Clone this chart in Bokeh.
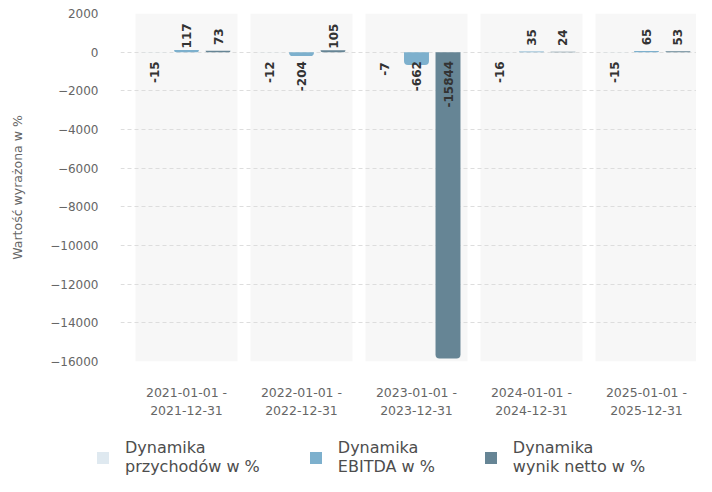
import math
from bokeh.plotting import figure
from bokeh.layouts import column, row
from bokeh.models import ColumnDataSource, FixedTicker, Legend, LegendItem
from bokeh.core.properties import value
from bokeh.embed import file_html
from bokeh.resources import INLINE

periods = ["2021-01-01 -\n2021-12-31", "2022-01-01 -\n2022-12-31", "2023-01-01 -\n2023-12-31",
           "2024-01-01 -\n2024-12-31", "2025-01-01 -\n2025-12-31"]
revenue = [-15, -12, -7, -16, -15]
ebitda = [117, -204, -662, 35, 65]
net = [73, 105, -15844, 24, 53]
series_names = ["Dynamika\nprzychodów w %", "Dynamika\nEBITDA w %", "Dynamika\nwynik netto w %"]
series_colors = ["#dfe9f0", "#7db0cd", "#668595"]
y_ticks = list(range(-16000, 2001, 2000))

FONT = "DejaVu Sans"

p = figure(width=696, height=430, output_backend="svg", toolbar_location=None,
           x_range=(-0.574, 4.435), y_range=(-16000, 2000),
           min_border_left=120, min_border_right=0, min_border_top=13, min_border_bottom=69)
p.outline_line_color = None
p.background_fill_color = "white"

xc = list(range(len(periods)))
band = p.vbar(x=xc, top=[2000] * len(xc), bottom=[-16000] * len(xc), width=0.887,
              fill_color="#f7f7f7", line_color=None)
band.level = "image"

# legend strip below the chart (own figure, ranges chosen so its bars stay out of view)
lg = figure(width=696, height=46, output_backend="svg", toolbar_location=None,
            x_range=(0, 1), y_range=(1e6, 2e6), x_axis_location=None, y_axis_location=None,
            min_border_left=0, min_border_right=0, min_border_top=0, min_border_bottom=0)
lg.outline_line_color = None
lg.xgrid.visible = False
lg.ygrid.visible = False

offsets = [-0.274, 0.0, 0.274]
items = []
for vals, off, name, col in zip([revenue, ebitda, net], offsets, series_names, series_colors):
    src = ColumnDataSource(dict(x=[i + off for i in xc], top=vals, bottom=[0] * len(vals)))
    p.vbar(x="x", top="top", bottom="bottom", width=0.217, source=src,
           fill_color=col, line_color=None, border_radius=(0, 0, 4, 4))
    lr = lg.vbar(x="x", top="top", bottom="bottom", width=0.217, source=src,
                 fill_color=col, line_color=None, border_radius=3)
    items.append(LegendItem(label=name, renderers=[lr], index=0))
    labels = [str(v) for v in vals]
    ypos = [max(v, 0) for v in vals]
    yoff = []
    for v, t in zip(vals, labels):
        half = len(t) * 8.0 / 2
        if v >= 0:
            yoff.append(-14)
        else:
            yoff.append(max(17, half + 8))
    lsrc = ColumnDataSource(dict(x=[i + off for i in xc], y=ypos, t=labels, yo=yoff))
    p.text(x="x", y="y", text="t", source=lsrc, angle=math.pi / 2, y_offset="yo",
           text_align="center", text_baseline="middle", text_font=value(FONT),
           text_font_style="bold", text_font_size="12px", text_color="#333333")

# axes
p.yaxis.ticker = FixedTicker(ticks=y_ticks)
p.yaxis.axis_line_color = None
p.yaxis.major_tick_line_color = None
p.yaxis.minor_tick_line_color = None
p.yaxis.major_label_text_font = FONT
p.yaxis.major_label_text_font_size = "12px"
p.yaxis.major_label_text_color = "#666666"
p.yaxis.major_label_standoff = 16
p.yaxis.axis_label = "Wartość wyrażona w %"
p.yaxis.axis_label_text_font = FONT
p.yaxis.axis_label_text_font_style = "normal"
p.yaxis.axis_label_text_font_size = "12.5px"
p.yaxis.axis_label_text_color = "#666666"
p.yaxis.axis_label_standoff = 22

p.xaxis.ticker = FixedTicker(ticks=xc)
p.xaxis.major_label_overrides = {i: lab for i, lab in enumerate(periods)}
p.xaxis.axis_line_color = None
p.xaxis.major_tick_line_color = None
p.xaxis.minor_tick_line_color = None
p.xaxis.major_label_text_font = FONT
p.xaxis.major_label_text_font_size = "12.5px"
p.xaxis.major_label_text_color = "#666666"
p.xaxis.major_label_text_line_height = 1.25
p.xaxis.major_label_standoff = 17

p.xgrid.grid_line_color = None
p.ygrid.ticker = FixedTicker(ticks=y_ticks)
p.ygrid.grid_line_color = "#dddddd"
p.ygrid.grid_line_dash = "4 3"

legend = Legend(items=items, orientation="horizontal", location=(95, 0),
                border_line_color=None, background_fill_alpha=0,
                glyph_width=15, glyph_height=15, label_standoff=15, spacing=48,
                label_text_font=FONT, label_text_font_size="16px",
                label_text_color="#4d4d4d", label_text_line_height=1.25,
                margin=0, padding=0)
lg.add_layout(legend, "center")

open("out.html", "w").write(file_html(column(p, row(lg), spacing=0), INLINE))
